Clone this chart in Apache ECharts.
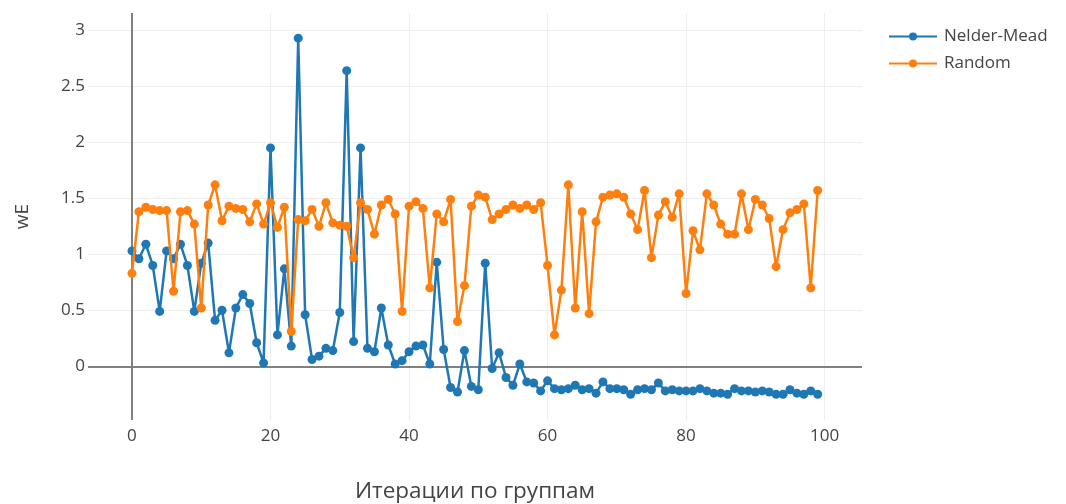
<!DOCTYPE html>
<html>
<head>
<meta charset="utf-8">
<script src="https://cdn.jsdelivr.net/npm/echarts@6/dist/echarts.min.js"></script>
<style>
  html, body { margin: 0; padding: 0; background: #fff; }
  #chart { width: 1066px; height: 504px; }
</style>
</head>
<body>
<div id="chart"></div>
<script>
// Iteration index (0..99) for both optimisers
const iterations = Array.from({ length: 100 }, (_, i) => i);

const nelderMead = [
  1.03, 0.96, 1.09, 0.90, 0.49, 1.03, 0.96, 1.09, 0.90, 0.49,
  0.92, 1.10, 0.41, 0.50, 0.12, 0.52, 0.64, 0.56, 0.21, 0.03,
  1.95, 0.28, 0.87, 0.18, 2.93, 0.46, 0.06, 0.09, 0.16, 0.14,
  0.48, 2.64, 0.22, 1.95, 0.16, 0.13, 0.52, 0.19, 0.02, 0.05,
  0.13, 0.18, 0.19, 0.02, 0.93, 0.15, -0.19, -0.23, 0.14, -0.18,
  -0.21, 0.92, -0.02, 0.12, -0.10, -0.17, 0.02, -0.14, -0.15, -0.22,
  -0.13, -0.20, -0.21, -0.20, -0.17, -0.21, -0.20, -0.24, -0.14, -0.20,
  -0.20, -0.21, -0.25, -0.21, -0.20, -0.21, -0.15, -0.22, -0.21, -0.22,
  -0.22, -0.22, -0.20, -0.22, -0.24, -0.24, -0.25, -0.20, -0.22, -0.22,
  -0.23, -0.22, -0.23, -0.25, -0.25, -0.21, -0.24, -0.25, -0.22, -0.25
];

const randomSearch = [
  0.83, 1.38, 1.42, 1.40, 1.39, 1.39, 0.67, 1.38, 1.39, 1.27,
  0.52, 1.44, 1.62, 1.30, 1.43, 1.41, 1.40, 1.29, 1.45, 1.27,
  1.46, 1.24, 1.42, 0.31, 1.31, 1.30, 1.40, 1.25, 1.46, 1.28,
  1.26, 1.25, 0.97, 1.46, 1.40, 1.18, 1.44, 1.49, 1.36, 0.49,
  1.43, 1.47, 1.41, 0.70, 1.36, 1.29, 1.49, 0.40, 0.72, 1.43,
  1.53, 1.51, 1.31, 1.36, 1.40, 1.44, 1.41, 1.44, 1.40, 1.46,
  0.90, 0.28, 0.68, 1.62, 0.52, 1.38, 0.47, 1.29, 1.51, 1.53,
  1.54, 1.51, 1.36, 1.22, 1.57, 0.97, 1.35, 1.47, 1.33, 1.54,
  0.65, 1.21, 1.04, 1.54, 1.44, 1.27, 1.18, 1.18, 1.54, 1.22,
  1.49, 1.44, 1.32, 0.89, 1.22, 1.37, 1.40, 1.45, 0.70, 1.57
];

const xTicks = [0, 20, 40, 60, 80, 100];
const yTicks = [0, 0.5, 1, 1.5, 2, 2.5, 3];

const seriesNames = ['Nelder-Mead', 'Random'];
const xTitle = 'Итерации по группам';
const yTitle = 'wE';

const FONT = '"Open Sans", "Noto Sans", sans-serif';
const TEXT = '#444';

const pairs = (ys) => iterations.map((x, i) => [x, ys[i]]);

const chart = echarts.init(document.getElementById('chart'), null, { renderer: 'canvas' });

chart.setOption({
  animation: false,
  backgroundColor: '#fff',
  textStyle: { fontFamily: FONT, color: TEXT },
  grid: {
    left: 88, right: 204, top: 13, bottom: 84,
    containLabel: false,
    outerBoundsMode: 'none'
  },
  legend: {
    orient: 'vertical',
    left: 883,
    top: 23,
    itemWidth: 48,
    itemHeight: 10,
    itemGap: 10,
    data: seriesNames,
    textStyle: { fontFamily: FONT, fontSize: 17, color: TEXT, padding: [0, 0, 0, 2] }
  },
  xAxis: {
    type: 'value',
    min: -6.35,
    max: 105.4,
    name: xTitle,
    nameLocation: 'middle',
    nameGap: 60,
    nameTextStyle: { fontFamily: FONT, fontSize: 22.5, color: TEXT },
    axisLine: { show: false },
    axisTick: { show: false, customValues: xTicks },
    axisLabel: { customValues: xTicks, margin: 8, fontSize: 17, color: TEXT, fontFamily: FONT },
    splitLine: { show: true, lineStyle: { color: '#eeeeee', width: 1 } }
  },
  yAxis: {
    type: 'value',
    min: -0.48,
    max: 3.155,
    name: yTitle,
    nameLocation: 'middle',
    nameRotate: 90,
    nameGap: 56,
    nameTextStyle: { fontFamily: FONT, fontSize: 19, color: TEXT },
    axisLine: { show: false },
    axisTick: { show: false, customValues: yTicks },
    axisLabel: { customValues: yTicks, margin: 3, fontSize: 17, color: TEXT, fontFamily: FONT },
    splitLine: { show: true, lineStyle: { color: '#eeeeee', width: 1 } }
  },
  series: [
    {
      name: seriesNames[0],
      type: 'line',
      data: pairs(nelderMead),
      symbol: 'circle',
      symbolSize: 9,
      showAllSymbol: true,
      color: '#1f77b4',
      lineStyle: { width: 2.5, color: '#1f77b4' },
      itemStyle: { color: '#1f77b4' },
      z: 3,
      markLine: {
        silent: true,
        symbol: 'none',
        label: { show: false },
        lineStyle: { color: '#808080', width: 2, type: 'solid' },
        data: [{ yAxis: 0 }, { xAxis: 0 }],
        z: 1
      }
    },
    {
      name: seriesNames[1],
      type: 'line',
      data: pairs(randomSearch),
      symbol: 'circle',
      symbolSize: 9,
      showAllSymbol: true,
      color: '#ff7f0e',
      lineStyle: { width: 2.5, color: '#ff7f0e' },
      itemStyle: { color: '#ff7f0e' },
      z: 4
    }
  ]
});
</script>
</body>
</html>
